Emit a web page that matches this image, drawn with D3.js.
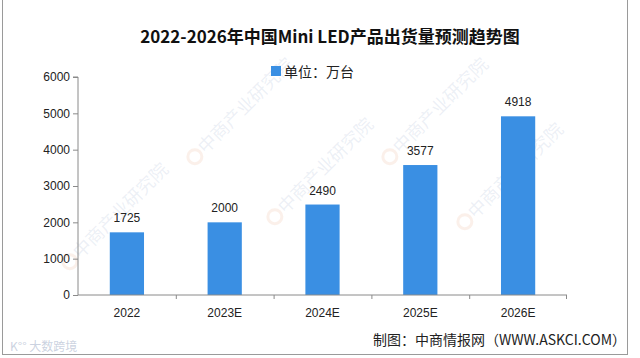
<!DOCTYPE html>
<html><head><meta charset="utf-8">
<script src="https://cdn.jsdelivr.net/npm/d3@7"></script>
<style>body{margin:0;background:#fff}svg{display:block}</style>
</head><body>
<svg id="c" width="640" height="358"></svg>
<script>
const categories = ["2022", "2023E", "2024E", "2025E", "2026E"];
const values = [1725, 2000, 2490, 3577, 4918];
const yTicks = [0, 1000, 2000, 3000, 4000, 5000, 6000];
const title = "2022-2026年中国Mini LED产品出货量预测趋势图";
const legendLabel = "单位：万台";
const source = "制图：中商情报网（WWW.ASKCI.COM）";
const watermark = "中商产业研究院";

const svg = d3.select("#c");
const W = 640, H = 358;
const m = {left: 78, right: 73, top: 77, bottom: 63};

svg.append("rect").attr("x", 0).attr("y", 0).attr("width", W).attr("height", H).attr("fill", "#fff");

// watermarks (kept inside the frame)
const wm = [[125, 215], [330, 170], [520, 175], [250, 110], [445, 110]];
const wmg = svg.append("g");
wm.forEach(([cx, cy]) => {
  const g = wmg.append("g").attr("transform", `translate(${cx},${cy}) rotate(-45)`);
  g.append("circle").attr("cx", -72).attr("cy", -6).attr("r", 7).attr("fill", "none")
    .attr("stroke", "rgba(235,170,140,0.18)").attr("stroke-width", 3);
  g.append("text").attr("x", 0).attr("y", 0).attr("text-anchor", "middle").attr("font-size", 18)
    .attr("font-family", "'Noto Sans CJK SC', sans-serif").attr("fill", "rgba(160,180,210,0.2)")
    .text(watermark);
});

// border
svg.append("rect").attr("x", 2.5).attr("y", -1).attr("width", 625).attr("height", 355.5)
  .attr("fill", "none").attr("stroke", "#9a9a9a").attr("stroke-width", 1);

const x = d3.scaleBand().domain(categories).range([m.left, W - m.right]).paddingInner(0.65).paddingOuter(0.325);
const xEdge = d3.scaleBand().domain(categories).range([m.left, W - m.right]).padding(0);
const y = d3.scaleLinear().domain([0, 6000]).range([H - m.bottom, m.top]);

// bars
svg.append("g").selectAll("rect").data(values).join("rect")
  .attr("x", (d, i) => x(categories[i]))
  .attr("y", d => y(d))
  .attr("width", x.bandwidth())
  .attr("height", d => y(0) - y(d))
  .attr("fill", "#3a8fe3");

// value labels
svg.append("g").selectAll("text").data(values).join("text")
  .attr("x", (d, i) => x(categories[i]) + x.bandwidth() / 2)
  .attr("y", d => y(d) - 10)
  .attr("text-anchor", "middle")
  .attr("font-family", "'Liberation Sans', Arial, sans-serif")
  .attr("font-size", 12).attr("fill", "#222")
  .text(d => d);

// y axis
const yAxis = svg.append("g").attr("transform", `translate(${m.left},0)`)
  .call(d3.axisLeft(y).tickValues(yTicks).tickSize(5).tickPadding(3).tickFormat(d3.format("d")));
yAxis.select(".domain").attr("stroke", "#8a8a8a").attr("d", `M-5,${y(6000)}H0V${y(0)}`);
yAxis.selectAll(".tick line").attr("stroke", "#8a8a8a");
yAxis.selectAll(".tick text").attr("font-family", "'Liberation Sans', Arial, sans-serif").attr("font-size", 12).attr("fill", "#222");

// x axis
const xAxis = svg.append("g").attr("transform", `translate(0,${y(0)})`)
  .call(d3.axisBottom(x).tickSize(0).tickPadding(13));
xAxis.select(".domain").attr("stroke", "#8a8a8a").attr("d", `M${m.left},0H${W - m.right}`);
xAxis.selectAll(".tick text").attr("font-family", "'Liberation Sans', Arial, sans-serif").attr("font-size", 12).attr("fill", "#222");
svg.append("g").selectAll("line").data(categories.slice(1).concat(["end"])).join("line")
  .attr("x1", (d, i) => i < categories.length - 1 ? xEdge(d) + 0.5 : W - m.right - 0.5)
  .attr("x2", (d, i) => i < categories.length - 1 ? xEdge(d) + 0.5 : W - m.right - 0.5)
  .attr("y1", y(0)).attr("y2", y(0) + 4)
  .attr("stroke", "#8a8a8a");

// title
svg.append("text").attr("x", 330).attr("y", 43).attr("text-anchor", "middle")
  .attr("font-family", "'Noto Sans CJK SC', sans-serif").attr("font-weight", "bold")
  .attr("font-size", 17).attr("fill", "#111").text(title);

// legend
svg.append("rect").attr("x", 271).attr("y", 66).attr("width", 10).attr("height", 10).attr("fill", "#3a8fe3");
svg.append("text").attr("x", 284).attr("y", 76.5)
  .attr("font-family", "'Noto Sans CJK SC', sans-serif").attr("font-size", 14).attr("fill", "#222").text(legendLabel);

// source
svg.append("text").attr("x", 626).attr("y", 345).attr("text-anchor", "end")
  .attr("font-family", "'Noto Sans CJK SC', sans-serif").attr("font-size", 14).attr("fill", "#222").text(source);

// bottom-left logo text
svg.append("text").attr("x", 10).attr("y", 351)
  .attr("font-family", "'Noto Sans CJK SC', sans-serif").attr("font-size", 12).attr("fill", "rgba(180,190,210,0.7)").text("K°° 大数跨境");
</script>
</body></html>
